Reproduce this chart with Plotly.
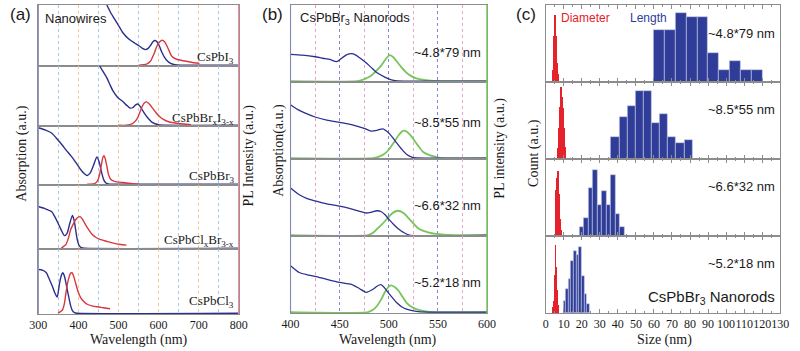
import plotly.graph_objects as go

W, H = 800, 351

# ---------------- Panel (a) data: nanowires (value = fraction of sub-panel height) ----------------
a_names = ["CsPbI<sub>3</sub>", "CsPbBr<sub>x</sub>I<sub>3-x</sub>", "CsPbBr<sub>3</sub>",
           "CsPbCl<sub>x</sub>Br<sub>3-x</sub>", "CsPbCl<sub>3</sub>"]

a1_abs_wl = [471, 480, 490, 500, 511, 525, 540, 552, 560, 567, 574, 580, 586, 591, 596, 602, 608, 615, 622, 630, 640, 655, 680, 800]
a1_abs = [1.00, 0.88, 0.77, 0.66, 0.54, 0.44, 0.37, 0.32, 0.28, 0.26, 0.28, 0.33, 0.39, 0.41, 0.39, 0.32, 0.22, 0.13, 0.07, 0.03, 0.01, 0.0, 0.0, 0.0]
a1_pl_wl = [550, 570, 580, 588, 596, 603, 609, 615, 621, 627, 633, 645, 666, 685, 702]
a1_pl = [0.0, 0.02, 0.07, 0.18, 0.32, 0.39, 0.415, 0.39, 0.32, 0.23, 0.15, 0.10, 0.07, 0.045, 0.03]

a2_abs_wl = [453, 462, 471, 479, 487, 498, 511, 520, 529, 536, 542, 548, 554, 564, 575, 585, 600, 620, 800]
a2_abs = [1.00, 0.90, 0.80, 0.68, 0.57, 0.47, 0.40, 0.34, 0.29, 0.30, 0.34, 0.36, 0.32, 0.21, 0.11, 0.045, 0.01, 0.0, 0.0]
a2_pl_wl = [499, 520, 535, 542, 548, 554, 560, 565, 570, 577, 585, 593, 601, 612, 625, 650, 681]
a2_pl = [0.0, 0.0, 0.03, 0.07, 0.13, 0.23, 0.33, 0.38, 0.395, 0.36, 0.29, 0.22, 0.155, 0.10, 0.06, 0.03, 0.01]

a3_abs_wl = [300, 318, 333, 349, 360, 369, 380, 389, 398, 407, 415, 422, 430, 438, 446, 452, 458, 463, 468, 474, 485, 800]
a3_abs = [0.97, 0.93, 0.88, 0.76, 0.67, 0.59, 0.50, 0.42, 0.33, 0.24, 0.18, 0.15, 0.20, 0.33, 0.47, 0.38, 0.20, 0.08, 0.025, 0.005, 0.0, 0.0]
a3_pl_wl = [422, 440, 447, 452, 457, 461, 464, 467, 471, 475, 480, 490, 511, 530, 551]
a3_pl = [0.0, 0.01, 0.05, 0.14, 0.32, 0.46, 0.49, 0.44, 0.31, 0.17, 0.09, 0.05, 0.03, 0.015, 0.0]

a4_abs_wl = [300, 315, 333, 341, 349, 357, 365, 372, 378, 385, 389, 393, 397, 402, 407, 415, 800]
a4_abs = [0.66, 0.63, 0.58, 0.50, 0.40, 0.29, 0.20, 0.24, 0.38, 0.52, 0.45, 0.30, 0.14, 0.04, 0.01, 0.0, 0.0]
a4_pl_wl = [357, 369, 375, 381, 387, 393, 399, 404, 410, 418, 426, 434, 444, 454, 470, 487, 505, 520]
a4_pl = [0.0, 0.06, 0.16, 0.30, 0.38, 0.45, 0.49, 0.50, 0.46, 0.37, 0.29, 0.22, 0.17, 0.14, 0.11, 0.08, 0.06, 0.05]

a5_abs_wl = [300, 310, 320, 328, 335, 341, 347, 353, 357, 361, 365, 369, 373, 377, 381, 385, 390, 397, 800]
a5_abs = [0.68, 0.67, 0.63, 0.52, 0.42, 0.32, 0.25, 0.47, 0.58, 0.63, 0.58, 0.47, 0.34, 0.22, 0.11, 0.04, 0.01, 0.0, 0.0]
a5_pl_wl = [349, 360, 365, 369, 373, 377, 380, 384, 388, 393, 399, 406, 414, 422, 434, 446, 462, 479]
a5_pl = [0.0, 0.05, 0.15, 0.32, 0.47, 0.57, 0.62, 0.63, 0.58, 0.47, 0.34, 0.24, 0.18, 0.14, 0.115, 0.10, 0.085, 0.07]

# ---------------- Panel (b) data: CsPbBr3 nanorods ----------------
b_names = ["~4.8*79 nm", "~8.5*55 nm", "~6.6*32 nm", "~5.2*18 nm"]

b1_abs_wl = [400, 412, 425, 433, 440, 447, 453, 458, 462, 466, 470, 476, 482, 487, 492, 498, 505, 515, 600]
b1_abs = [0.35, 0.34, 0.32, 0.30, 0.285, 0.255, 0.31, 0.35, 0.36, 0.345, 0.31, 0.25, 0.18, 0.12, 0.08, 0.04, 0.01, 0.0, 0.0]
b1_pl_wl = [400, 468, 476, 482, 487, 492, 497, 501, 505, 508, 513, 518, 523, 528, 540, 554, 600]
b1_pl = [0.0, 0.0, 0.03, 0.07, 0.13, 0.20, 0.29, 0.34, 0.31, 0.26, 0.18, 0.11, 0.065, 0.035, 0.01, 0.0, 0.0]

b2_abs_wl = [400, 407, 415, 425, 437, 450, 462, 475, 482, 488, 494, 500, 504, 508, 513, 518, 524, 540, 600]
b2_abs = [0.70, 0.64, 0.59, 0.54, 0.50, 0.47, 0.44, 0.39, 0.355, 0.365, 0.385, 0.33, 0.27, 0.20, 0.12, 0.05, 0.01, 0.0, 0.0]
b2_pl_wl = [400, 484, 490, 495, 500, 505, 510, 515, 520, 525, 530, 535, 542, 548, 554, 600]
b2_pl = [0.0, 0.0, 0.02, 0.05, 0.11, 0.20, 0.30, 0.36, 0.33, 0.25, 0.16, 0.08, 0.035, 0.015, 0.0, 0.0]

b3_abs_wl = [400, 409, 417, 425, 437, 450, 460, 468, 477, 482, 488, 492, 496, 500, 505, 510, 515, 521, 600]
b3_abs = [0.62, 0.53, 0.48, 0.45, 0.41, 0.38, 0.35, 0.32, 0.29, 0.30, 0.32, 0.31, 0.27, 0.21, 0.14, 0.08, 0.035, 0.0, 0.0]
b3_pl_wl = [400, 479, 484, 488, 493, 498, 503, 509, 515, 521, 526, 531, 540, 548, 568, 600]
b3_pl = [0.0, 0.0, 0.03, 0.08, 0.14, 0.21, 0.28, 0.32, 0.29, 0.21, 0.14, 0.08, 0.035, 0.015, 0.0, 0.0]

b4_abs_wl = [400, 409, 417, 425, 437, 450, 462, 470, 477, 484, 488, 492, 495, 498, 503, 508, 513, 518, 528, 540, 600]
b4_abs = [0.61, 0.52, 0.49, 0.47, 0.43, 0.39, 0.365, 0.31, 0.26, 0.30, 0.34, 0.36, 0.33, 0.28, 0.20, 0.125, 0.07, 0.04, 0.01, 0.0, 0.0]
b4_pl_wl = [400, 479, 484, 488, 492, 496, 499, 502, 506, 510, 514, 518, 523, 528, 535, 544, 600]
b4_pl = [0.0, 0.0, 0.03, 0.08, 0.16, 0.26, 0.32, 0.35, 0.33, 0.28, 0.20, 0.125, 0.07, 0.04, 0.015, 0.0, 0.0]

# ---------------- Panel (c) data: size histograms (count, a.u.) ----------------
c_names = ["~4.8*79 nm", "~8.5*55 nm", "~6.6*32 nm", "~5.2*18 nm"]

c1_len_x = [63, 69, 75, 81, 87, 93, 99, 105, 111, 117]
c1_len_w = 6
c1_len = [67, 67, 90, 85, 85, 38, 16, 27, 16, 16]
c1_dia_x = [3.75, 4.25, 4.75, 5.25, 5.75, 6.25, 6.75]
c1_dia = [15, 60, 87, 65, 60, 25, 10]

c2_len_x = [38.5, 43, 47.5, 52, 56.5, 61, 65.5, 70, 74.5, 79]
c2_len_w = 4.5
c2_len = [29, 54, 69, 88, 88, 47, 58, 29, 21, 25]
c2_dia_x = [6.75, 7.25, 7.75, 8.25, 8.75, 9.25, 9.75, 10.25, 10.75]
c2_dia = [14, 40, 68, 94, 80, 66, 40, 38, 15]

c3_len_x = [20, 22.5, 25, 27.5, 30, 32.5, 35, 37.5, 40, 42.5]
c3_len_w = 2.5
c3_len = [12, 24, 62, 86, 40, 58, 40, 79, 29, 12]
c3_dia_x = [5.25, 5.75, 6.25, 6.75, 7.25, 7.75, 8.25]
c3_dia = [20, 60, 75, 84, 55, 22, 8]

c4_len_x = [10.5, 11.95, 13.4, 14.85, 16.3, 17.75, 19.2, 20.65, 22.1, 23.55]
c4_len_w = 1.45
c4_len = [16, 31, 44, 67, 80, 75, 86, 48, 25, 12]
c4_dia_x = [3.75, 4.25, 4.75, 5.25, 5.75, 6.25, 6.75]
c4_dia = [8, 15, 50, 88, 60, 30, 10]
dia_w = 0.5

# ---------------- styling ----------------
NAVY = "#2b2f8f"
RED = "#d9363e"
GREEN = "#78c45c"
BAR_BLUE = "#2f3c98"
BAR_RED = "#e5222b"
GREY = "#8c8c8c"
TXT = "#1a1a1a"
SERIF = "Liberation Serif"
SANS = "Liberation Sans"


def px(x):
    return x / W


def py(y):
    return 1 - y / H


A_X = (30, 235)
B_X = (288, 489)
C_X = (549, 789)
A_Y = [5, 66, 126, 185, 249, 314]
B_Y = [5, 82, 159, 236, 313]
C_Y = [5, 82, 159, 236, 313]

fig = go.Figure()
axes = {}
count = [0]


def new_axes(xdom, ytop, ybot, xrange, yrange, bottom, style, tsize):
    count[0] += 1
    k = count[0]
    xs = "xaxis" if k == 1 else f"xaxis{k}"
    ys = "yaxis" if k == 1 else f"yaxis{k}"
    xr = "x" if k == 1 else f"x{k}"
    yr = "y" if k == 1 else f"y{k}"
    xa = dict(domain=[px(xdom[0]), px(xdom[1])], range=xrange, anchor=yr,
              showline=True, mirror=True, linecolor=GREY, linewidth=1,
              zeroline=False, showticklabels=bottom, tickangle=0,
              tickfont=dict(family=SERIF, size=tsize, color=TXT), fixedrange=True)
    xa.update(style)
    ya = dict(domain=[py(ybot), py(ytop)], range=yrange, anchor=xr,
              showline=True, mirror=True, linecolor=GREY, linewidth=1,
              zeroline=False, showticklabels=False, showgrid=False, ticks="",
              fixedrange=True)
    axes[xs] = xa
    axes[ys] = ya
    return xr, yr


a_style = dict(tick0=300, dtick=100, showgrid=True, gridcolor="#efcb98", griddash="dot",
               gridwidth=1, ticks="",
               minor=dict(tick0=300, dtick=50, showgrid=True, gridcolor="#a3cbe6",
                          griddash="dot", gridwidth=1))
b_style = dict(tick0=400, dtick=50, showgrid=True, gridcolor="#8585d8", griddash="dot",
               gridwidth=1, ticks="",
               minor=dict(tick0=400, dtick=25, showgrid=True, gridcolor="#e4a6d0",
                          griddash="dot", gridwidth=1))
c_style = dict(tick0=0, dtick=10, showgrid=False, ticks="inside", ticklen=4, tickcolor=GREY,
               mirror="ticks",
               minor=dict(dtick=5, ticks="inside", ticklen=2, tickcolor=GREY))

SM = 0.6
a_abs = [(a1_abs_wl, a1_abs), (a2_abs_wl, a2_abs), (a3_abs_wl, a3_abs), (a4_abs_wl, a4_abs), (a5_abs_wl, a5_abs)]
a_pl = [(a1_pl_wl, a1_pl), (a2_pl_wl, a2_pl), (a3_pl_wl, a3_pl), (a4_pl_wl, a4_pl), (a5_pl_wl, a5_pl)]
for i in range(5):
    xr, yr = new_axes(A_X, A_Y[i], A_Y[i + 1], [300, 800], [-0.012, 1.0], i == 4, a_style, 12)
    fig.add_trace(go.Scatter(x=a_abs[i][0], y=a_abs[i][1], mode="lines", xaxis=xr, yaxis=yr,
                             line=dict(color=NAVY, width=1.4, shape="spline", smoothing=SM)))
    fig.add_trace(go.Scatter(x=a_pl[i][0], y=a_pl[i][1], mode="lines", xaxis=xr, yaxis=yr,
                             line=dict(color=RED, width=1.4, shape="spline", smoothing=SM)))

b_abs = [(b1_abs_wl, b1_abs), (b2_abs_wl, b2_abs), (b3_abs_wl, b3_abs), (b4_abs_wl, b4_abs)]
b_pl = [(b1_pl_wl, b1_pl), (b2_pl_wl, b2_pl), (b3_pl_wl, b3_pl), (b4_pl_wl, b4_pl)]
for i in range(4):
    xr, yr = new_axes(B_X, B_Y[i], B_Y[i + 1], [400, 600], [-0.012, 1.0], i == 3, b_style, 12)
    fig.add_trace(go.Scatter(x=b_pl[i][0], y=b_pl[i][1], mode="lines", xaxis=xr, yaxis=yr,
                             line=dict(color=GREEN, width=1.8, shape="spline", smoothing=SM)))
    fig.add_trace(go.Scatter(x=b_abs[i][0], y=b_abs[i][1], mode="lines", xaxis=xr, yaxis=yr,
                             line=dict(color=NAVY, width=1.3, shape="spline", smoothing=SM)))

c_len = [(c1_len_x, c1_len, c1_len_w), (c2_len_x, c2_len, c2_len_w),
         (c3_len_x, c3_len, c3_len_w), (c4_len_x, c4_len, c4_len_w)]
c_dia = [(c1_dia_x, c1_dia), (c2_dia_x, c2_dia), (c3_dia_x, c3_dia), (c4_dia_x, c4_dia)]
for i in range(4):
    xr, yr = new_axes(C_X, C_Y[i], C_Y[i + 1], [0, 130], [0, 100], i == 3, c_style, 12)
    fig.add_trace(go.Bar(x=c_len[i][0], y=c_len[i][1], width=c_len[i][2], xaxis=xr, yaxis=yr,
                         marker=dict(color=BAR_BLUE, line=dict(color="#c8cce8", width=0.6))))
    fig.add_trace(go.Bar(x=c_dia[i][0], y=c_dia[i][1], width=dia_w, xaxis=xr, yaxis=yr,
                         marker=dict(color=BAR_RED, line=dict(width=0))))

# ---------------- annotations ----------------
ann = []


def text(t, x, y, size, family=SANS, color=TXT, xanchor="center", angle=0):
    ann.append(dict(text=t, x=px(x), y=py(y), xref="paper", yref="paper", showarrow=False,
                    xanchor=xanchor, yanchor="middle", textangle=angle,
                    font=dict(family=family, size=size, color=color)))


text("(a)", 12, 14, 17)
text("(b)", 270, 14, 17)
text("(c)", 529, 14, 17)

text("Nanowires", 35, 18, 13, xanchor="left")
a_label_y = [58, 118, 176, 240, 301]
for i in range(5):
    text(a_names[i], 232, a_label_y[i], 13, family=SERIF, xanchor="right")

text("CsPbBr<sub>3</sub> Nanorods", 296, 18, 13, xanchor="left")
b_label_y = [52, 122, 205, 282]
for i in range(4):
    text(b_names[i], 485, b_label_y[i], 13, xanchor="right")

text("Diameter", 563, 18, 12, color="#e5222b", xanchor="left")
text("Length", 633, 18, 12, color="#2f3c98", xanchor="left")
c_label_y = [34, 110, 187, 263]
for i in range(4):
    text(c_names[i], 786, c_label_y[i], 13, xanchor="right")
text("CsPbBr<sub>3</sub> Nanorods", 786, 297, 15, xanchor="right")

text("Absorption (a.u.)", 13, 154, 14, family=SERIF, angle=-90)
text("PL Intensity (a.u.)", 246, 155, 14, family=SERIF, angle=-90)
text("Absorption(a.u.)", 276, 150, 14, family=SERIF, angle=-90)
text("PL intensity (a.u.)", 502, 148, 14, family=SERIF, angle=-90)
text("Count (a.u.)", 537, 153, 14, family=SERIF, angle=-90)

text("Wavelength (nm)", 133, 340, 14, family=SERIF)
text("Wavelength (nm)", 388, 340, 14, family=SERIF)
text("Size (nm)", 671, 340, 14, family=SERIF)

# coloured side borders
shapes = [
    dict(type="line", xref="paper", yref="paper", x0=px(A_X[1]), x1=px(A_X[1]),
         y0=py(A_Y[-1]), y1=py(A_Y[0]), line=dict(color="#e58a9a", width=1.3)),
    dict(type="line", xref="paper", yref="paper", x0=px(A_X[0]), x1=px(A_X[0]),
         y0=py(A_Y[-1]), y1=py(A_Y[0]), line=dict(color="#8088b8", width=1.1)),
    dict(type="line", xref="paper", yref="paper", x0=px(B_X[1]), x1=px(B_X[1]),
         y0=py(B_Y[-1]), y1=py(B_Y[0]), line=dict(color=GREEN, width=1.5)),
    dict(type="line", xref="paper", yref="paper", x0=px(B_X[0]), x1=px(B_X[0]),
         y0=py(B_Y[-1]), y1=py(B_Y[0]), line=dict(color="#8088b8", width=1.1)),
]

fig.update_layout(
    width=W, height=H, margin=dict(l=0, r=0, t=0, b=0),
    paper_bgcolor="white", plot_bgcolor="white",
    font=dict(family=SANS, color=TXT),
    showlegend=False, barmode="overlay", bargap=0,
    annotations=ann, shapes=shapes, **axes)

fig.write_html("out.html")
